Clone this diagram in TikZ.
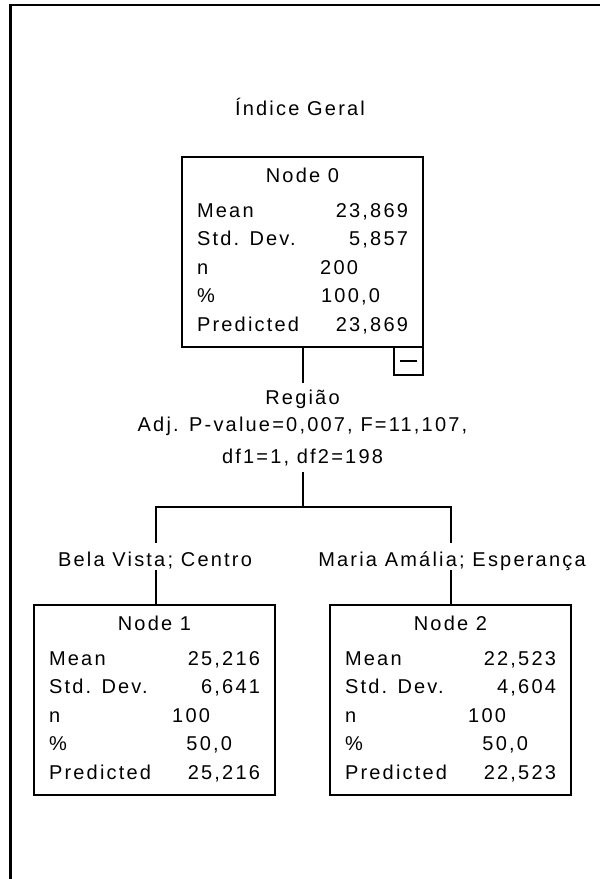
\documentclass[tikz,border=0pt]{standalone}
\usepackage{fontspec}
\setmainfont{Liberation Sans}[LetterSpace=11]
\tikzset{
  txt/.style={inner sep=0pt, outer sep=0pt, font=\fontsize{20}{24}\selectfont},
  statbox/.style={draw, line width=2pt, fill=white, inner sep=0pt, outer sep=0pt,
    minimum width=241, minimum height=190},
  togbox/.style={draw, line width=2pt, fill=white, inner sep=0pt, outer sep=0pt,
    minimum width=29, minimum height=28},
  conn/.style={line width=2pt},
  frame/.style={line width=2.5pt}
}
% #1 name, #2 left, #3 top, #4 title, #5 mean, #6 sd, #7 n, #8 pct, #9 pred
\newcommand\statnode[9]{%
  \node[statbox] (#1) at ({#2+120.5},{#3+95}) {};
  \node[txt,anchor=base] (#1-title) at ({#2+120.5},{#3+25}) {#4};
  \node[txt,anchor=base west] (#1-meanl) at ({#2+15},{#3+60}) {Mean};
  \node[txt,anchor=base east] (#1-meanv) at ({#2+226},{#3+60}) {#5};
  \node[txt,anchor=base west] (#1-sdl) at ({#2+15},{#3+88.5}) {Std. Dev.};
  \node[txt,anchor=base east] (#1-sdv) at ({#2+226},{#3+88.5}) {#6};
  \node[txt,anchor=base west] (#1-nl) at ({#2+15},{#3+117}) {n};
  \node[txt,anchor=base east] (#1-nv) at ({#2+176},{#3+117}) {#7};
  \node[txt,anchor=base west] (#1-pl) at ({#2+15},{#3+145.5}) {\%};
  \node[txt,anchor=base east] (#1-pv) at ({#2+198},{#3+145.5}) {#8};
  \node[txt,anchor=base west] (#1-prl) at ({#2+15},{#3+174}) {Predicted};
  \node[txt,anchor=base east] (#1-prv) at ({#2+226},{#3+174}) {#9};
}
\begin{document}
\begin{tikzpicture}[x=1pt, y=-1pt]
\useasboundingbox (0,0) rectangle (600,879);
\fill[white] (0,0) rectangle (600,879);
% outer frame (left and top edges only)
\draw[frame] (10.5,879) -- (10.5,5) -- (600,5);

\node[txt,anchor=base] (title) at (300,115) {Índice Geral};

\statnode{n0}{182}{157}{Node 0}{23,869}{5,857}{200}{100,0}{23,869}
\node[togbox,anchor=north east] (tog) at (n0.south east) {};
\draw[conn] ([xshift=-8.5pt]tog.center) -- ([xshift=8.5pt]tog.center);

% split description
\node[txt,anchor=base] (reg) at (302.5,404) {Região};
\node[txt,anchor=base] (adj) at (302.5,431) {Adj. P-value=0,007, F=11,107,};
\node[txt,anchor=base] (dfs) at (302.5,463) {df1=1, df2=198};

\coordinate (c0) at (302.5,383);
\coordinate (c1) at (302.5,472);
\coordinate (hub) at (302.5,507);
\coordinate (a1) at (155.5,543);
\coordinate (a2) at (451,543);
\coordinate (b1) at (155.5,570);
\coordinate (b2) at (451,570);

\draw[conn] (n0.south) -- (c0);
\draw[conn] (c1) -- (hub);
\draw[conn] (a1) |- (hub) -| (a2);

\node[txt,anchor=base] (lab1) at (155,566) {Bela Vista; Centro};
\node[txt,anchor=base] (lab2) at (452,566) {Maria Amália; Esperança};

\statnode{n1}{34}{605}{Node 1}{25,216}{6,641}{100}{50,0}{25,216}
\statnode{n2}{330}{605}{Node 2}{22,523}{4,604}{100}{50,0}{22,523}

\draw[conn] (b1) -- (b1 |- n1.north);
\draw[conn] (b2) -- (b2 |- n2.north);
\end{tikzpicture}
\end{document}
